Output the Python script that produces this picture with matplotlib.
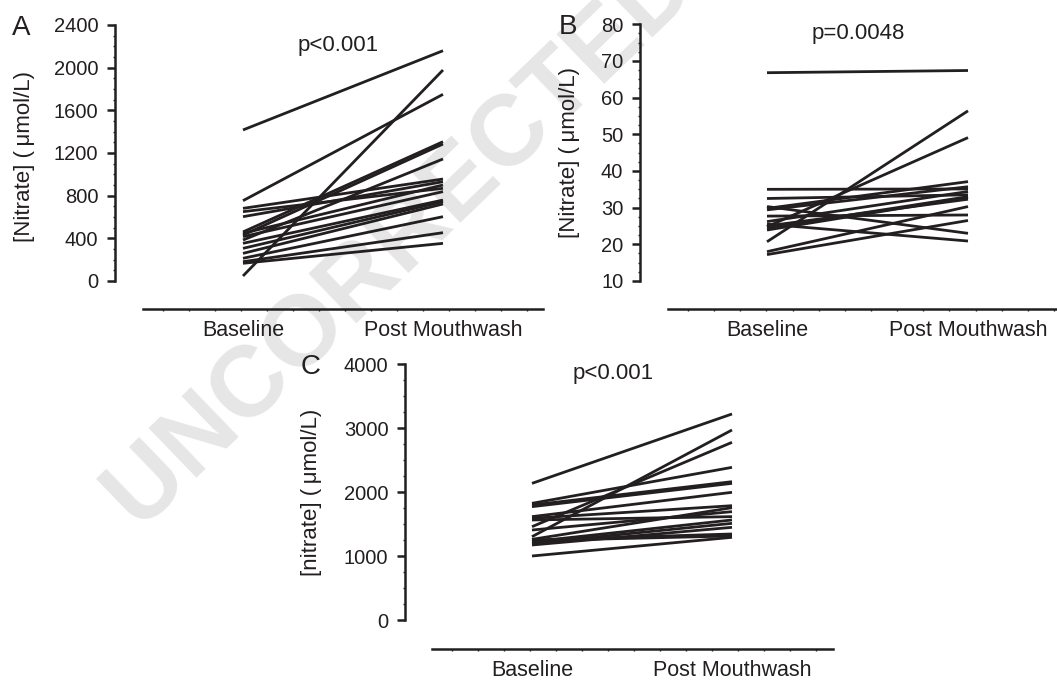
import matplotlib
matplotlib.use("Agg")
import matplotlib.pyplot as plt
from matplotlib.ticker import MultipleLocator, FixedLocator
import numpy as np

plt.rcParams['font.family'] = ['Liberation Sans', 'DejaVu Sans']

INK = '#231f20'
W, H = 1057, 682

groups = ['Baseline', 'Post Mouthwash']

# panel A: saliva nitrate
a_base = [1416, 753, 47, 681, 650, 603, 460, 431, 447, 416, 384, 353, 306, 259, 213, 181, 166]
a_post = [2159, 1750, 1978, 956, 869, 931, 1306, 1284, 900, 838, 1144, 759, 744, 722, 603, 453, 353]

# panel B: plasma nitrate
b_base = [66.8, 35.0, 32.5, 30.3, 29.8, 29.4, 27.7, 26.2, 25.5, 25.0, 24.8, 24.5, 23.9, 20.7, 18.0, 17.2]
b_post = [67.4, 35.1, 33.5, 23.0, 37.1, 35.7, 28.0, 34.4, 20.9, 32.3, 49.1, 33.0, 32.8, 56.4, 30.3, 26.5]

# panel C: urine nitrate
c_base = [2135, 1823, 1797, 1771, 1615, 1589, 1563, 1458, 1406, 1302, 1260, 1224, 1198, 1172, 1000, 1240, 1250]
c_post = [3219, 2385, 2161, 2135, 1995, 1786, 1615, 2776, 1693, 2969, 1755, 1563, 1510, 1448, 1292, 1313, 1344]


def fx(x):
    return x / W


def fy(y):
    return 1 - y / H


def make_panel(fig, spine_x, right_x, top_y, zero_y, axis_y, base_x, post_x,
               line_left, ymin, ymax, ystep, base, post):
    ax = fig.add_axes([fx(spine_x), fy(axis_y), (right_x - spine_x) / W, (axis_y - top_y) / H])
    ax.set_facecolor('none')

    yscale = (zero_y - top_y) / (ymax - ymin)
    ax.set_ylim(ymin - (axis_y - zero_y) / yscale, ymax)
    xscale = post_x - base_x
    x0 = (spine_x - base_x) / xscale
    x1 = (right_x - base_x) / xscale
    ax.set_xlim(x0, x1)

    for b, p in zip(base, post):
        ax.plot([0, 1], [b, p], color=INK, lw=2.0, solid_capstyle='butt', clip_on=False)

    for s in ['top', 'right']:
        ax.spines[s].set_visible(False)
    ax.spines['left'].set_bounds(ymin, ymax)
    xl = (line_left - base_x) / xscale
    ax.spines['bottom'].set_bounds(xl, x1)
    for s in ['left', 'bottom']:
        ax.spines[s].set_linewidth(1.8)
        ax.spines[s].set_color(INK)

    ax.yaxis.set_major_locator(MultipleLocator(ystep))
    ax.yaxis.set_minor_locator(FixedLocator(np.arange(ymin, ymax + 1e-9, ystep / 4)))
    ax.tick_params(axis='y', which='major', length=6, width=1.8, color=INK,
                   labelsize=14.5, labelcolor=INK, pad=6)
    ax.tick_params(axis='y', which='minor', length=1.5, width=1, color=INK)

    ax.set_xticks([0, 1])
    ax.set_xticklabels(groups)
    ax.xaxis.set_minor_locator(FixedLocator(np.arange(xl + 0.1, x1, 0.13)))
    ax.tick_params(axis='x', which='major', length=0, labelsize=15.5, labelcolor=INK, pad=8)
    ax.tick_params(axis='x', which='minor', length=1.5, width=1, color=INK)
    return ax


fig = plt.figure(figsize=(W / 100, H / 100), dpi=100)

# watermark behind everything
fig.text(fx(140), fy(532), 'UNCORRECTED PROOF', rotation=44, rotation_mode='anchor',
         ha='left', va='baseline', fontsize=72, fontweight='bold', color='#e6e6e6', zorder=-5)

make_panel(fig, 115, 543, 25, 281, 309, 243, 443, 143, 0, 2400, 400, a_base, a_post)
make_panel(fig, 640, 1057, 24.3, 281, 309, 767, 968, 668, 10, 80, 10, b_base, b_post)
make_panel(fig, 405, 833, 364, 620, 649, 532, 732, 432, 0, 4000, 1000, c_base, c_post)

# axis titles
fig.text(fx(25), fy(156), '[Nitrate] (\u2009\u03bcmol/L)', rotation=90, ha='center', va='center',
         fontsize=16, color=INK)
fig.text(fx(570), fy(153), '[Nitrate] (\u2009\u03bcmol/L)', rotation=90, ha='center', va='center',
         fontsize=16, color=INK)
fig.text(fx(312), fy(492), '[nitrate] (\u2009\u03bcmol/L)', rotation=90, ha='center', va='center',
         fontsize=16, color=INK)

# p values
fig.text(fx(338), fy(46), 'p<0.001', ha='center', va='center', fontsize=16, color=INK)
fig.text(fx(858), fy(34), 'p=0.0048', ha='center', va='center', fontsize=16, color=INK)
fig.text(fx(613), fy(373), 'p<0.001', ha='center', va='center', fontsize=16, color=INK)

# panel letters
fig.text(fx(21), fy(28), 'A', ha='center', va='center', fontsize=20, color=INK)
fig.text(fx(568), fy(27), 'B', ha='center', va='center', fontsize=20, color=INK)
fig.text(fx(311), fy(367), 'C', ha='center', va='center', fontsize=20, color=INK)

fig.savefig('out.png', dpi=100)
